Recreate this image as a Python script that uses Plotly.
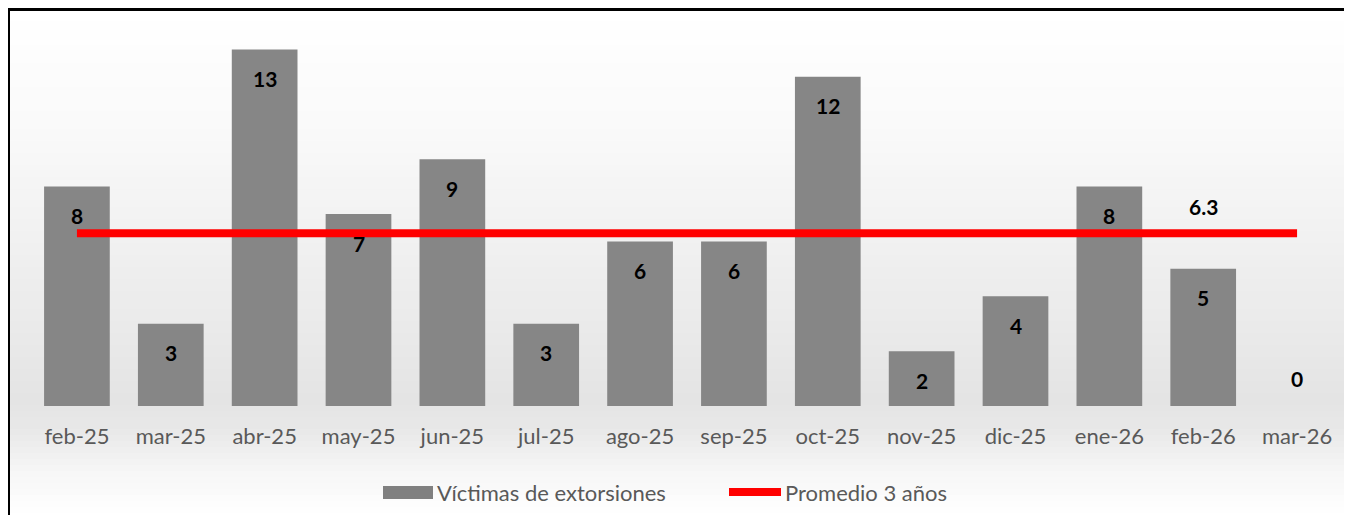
import plotly.graph_objects as go

months = ["feb-25", "mar-25", "abr-25", "may-25", "jun-25", "jul-25", "ago-25",
          "sep-25", "oct-25", "nov-25", "dic-25", "ene-26", "feb-26", "mar-26"]
victimas = [8, 3, 13, 7, 9, 3, 6, 6, 12, 2, 4, 8, 5, 0]
promedio_valor = 6.3
promedio = [promedio_valor] * len(months)
promedio_label_month = "feb-26"
serie_barras = "Víctimas de extorsiones"
serie_linea = "Promedio 3 años"

OFF = 8  # page body offset
W, H = 1344, 507
ML, MR, MT, MB = 22, 8, 14, 109
PW, PH = W - ML - MR, H - MT - MB

def px_x(sx):
    return (sx - OFF - ML) / PW

def px_y(sy):
    return (H - MB - (sy - OFF)) / PH

FONT = "Lato, Open Sans, sans-serif"

fig = go.Figure()
fig.add_trace(go.Bar(
    x=months, y=victimas, name=serie_barras,
    marker=dict(color="#868686", line=dict(width=0)), showlegend=False,
))
fig.add_trace(go.Scatter(
    x=months, y=promedio, mode="lines", name=serie_linea,
    line=dict(color="#ff0000", width=8), showlegend=False,
))

annotations = []
for m, v in zip(months, victimas):
    annotations.append(dict(
        x=m, y=v, xref="x", yref="y", text=f"<b>{v}</b>", showarrow=False,
        yshift=-29 if v > 0 else 28,
        font=dict(family=FONT, size=21, color="#000000"),
    ))
annotations.append(dict(
    x=promedio_label_month, y=promedio_valor, xref="x", yref="y",
    text=f"<b>{promedio_valor}</b>", showarrow=False, yshift=27,
    font=dict(family=FONT, size=21, color="#000000"),
))

# manual legend
annotations.append(dict(
    x=px_x(435), y=px_y(492), xref="paper", yref="paper", xanchor="left", yanchor="middle",
    text=serie_barras, showarrow=False, font=dict(family=FONT, size=22, color="#595959"),
))
annotations.append(dict(
    x=px_x(783), y=px_y(492), xref="paper", yref="paper", xanchor="left", yanchor="middle",
    text=serie_linea, showarrow=False, font=dict(family=FONT, size=22, color="#595959"),
))

# background gradient bands (screen pixel rows)
stops = [(9, 255), (120, 250), (250, 240), (400, 228), (430, 232), (470, 246), (515, 255)]
def shade(py):
    for (a, ca), (b, cb) in zip(stops, stops[1:]):
        if a <= py <= b:
            return ca + (cb - ca) * (py - a) / (b - a)
    return 255

shapes = []
step = 6
py = 9
while py < 520:
    c = int(round(shade(py + step / 2)))
    shapes.append(dict(
        type="rect", xref="paper", yref="paper", layer="below",
        x0=px_x(8), x1=px_x(1360), y0=px_y(py + step), y1=px_y(py),
        fillcolor=f"rgb({c},{c},{c})", line=dict(width=0),
    ))
    py += step

# legend symbols
shapes.append(dict(
    type="rect", xref="paper", yref="paper",
    x0=px_x(383), x1=px_x(433), y0=px_y(499), y1=px_y(486),
    fillcolor="#808080", line=dict(width=0),
))
shapes.append(dict(
    type="line", xref="paper", yref="paper",
    x0=px_x(729), x1=px_x(781), y0=px_y(492), y1=px_y(492),
    line=dict(color="#ff0000", width=8),
))

# frame (left and top border)
shapes.append(dict(
    type="path", xref="paper", yref="paper",
    path=f"M {px_x(8.5)} {px_y(525)} L {px_x(8.5)} {px_y(9.5)} L {px_x(1360)} {px_y(9.5)}",
    line=dict(color="#000000", width=3),
))

fig.update_layout(
    width=W, height=H,
    margin=dict(l=ML, r=MR, t=MT, b=MB),
    paper_bgcolor="#ffffff", plot_bgcolor="rgba(0,0,0,0)",
    bargap=0.3,
    showlegend=False,
    font=dict(family=FONT, size=22, color="#595959"),
    xaxis=dict(showgrid=False, showline=False, zeroline=False, ticks="",
               tickfont=dict(size=22, color="#595959"), ticklabelstandoff=15),
    yaxis=dict(range=[0, 14], visible=False, showgrid=False, zeroline=False),
    annotations=annotations,
    shapes=shapes,
)

fig.write_html("out.html")
